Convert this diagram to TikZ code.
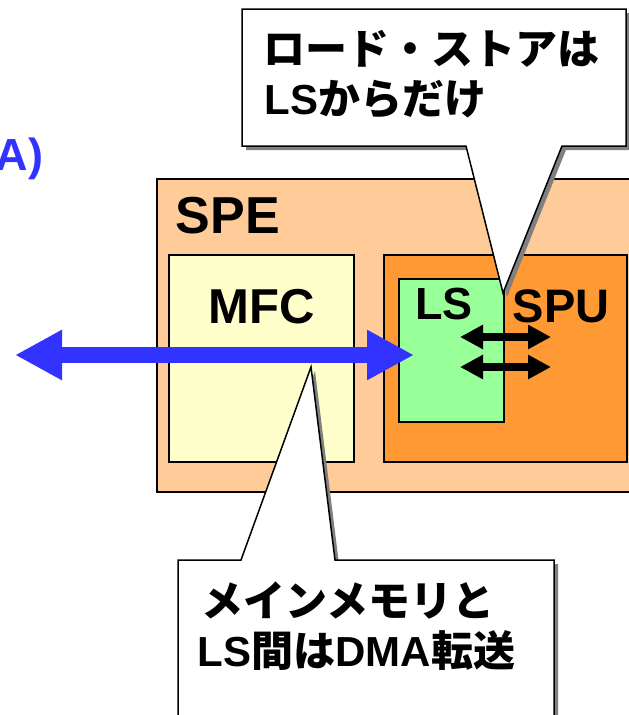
\documentclass[tikz,border=0pt]{standalone}
\usepackage{fontspec}
\setmainfont{Liberation Sans}
\newfontfamily\jpfont{Noto Sans CJK JP}
\usetikzlibrary{arrows.meta}
\definecolor{speclr}{RGB}{255,204,153}
\definecolor{mfcclr}{RGB}{255,255,204}
\definecolor{spuclr}{RGB}{255,153,51}
\definecolor{lsclr}{RGB}{153,255,153}
\definecolor{dmaclr}{RGB}{51,51,255}
\definecolor{shadowclr}{RGB}{128,128,128}

\begin{document}
\begin{tikzpicture}[
    x=1pt,
    y=-1pt,
    line width=1.5pt,
    unitbox/.style={draw=black, anchor=north west, inner sep=0pt, outer sep=0pt},
    spebox/.style={unitbox, fill=speclr},
    mfcbox/.style={unitbox, fill=mfcclr},
    spubox/.style={unitbox, fill=spuclr},
    lsbox/.style={unitbox, fill=lsclr},
    unitlabel/.style={inner sep=0pt},
    calltext/.style={anchor=base west, inner sep=0pt, font=\bfseries\fontsize{42}{50}\selectfont},
    callout/.style={draw=black, fill=white, line join=miter},
    callshadow/.style={fill=shadowclr},
    dmaflow/.style={draw=dmaclr, line width=16pt, {Triangle[length=47pt,width=47pt]}-{Triangle[length=47pt,width=47pt]}},
    lsflow/.style={draw=black, line width=8pt, {Triangle[length=23pt,width=23pt]}-{Triangle[length=23pt,width=23pt]}}
]
\useasboundingbox (0,0) rectangle (629,715);

% Units.
\node[spebox, minimum width=520pt, minimum height=313pt] (spe) at (157,179) {};
\node[mfcbox, minimum width=185pt, minimum height=207pt] (mfc) at (169,255) {};
\node[spubox, minimum width=243pt, minimum height=207pt] (spu) at (384,255) {};
\node[lsbox, minimum width=105pt, minimum height=143pt] (ls) at (399,279) {};

% Transfers.
\coordinate (memend) at (15,355);
\coordinate (lsin) at (414,355);
\coordinate (lsa) at (460,337);
\coordinate (spua) at (551,337);
\coordinate (lsb) at (460,367);
\coordinate (spub) at (551,367);
\draw[dmaflow] (memend) -- (lsin);
\draw[lsflow] (lsa) -- (spua);
\draw[lsflow] (lsb) -- (spub);

% Labels.
\node[anchor=base east, inner sep=0pt, text=dmaclr, font=\bfseries\fontsize{45}{54}\selectfont] (dmalabel) at (44,170) {A)};
\node[unitlabel, font=\bfseries\fontsize{52}{60}\selectfont] (spelabel) at (228,216) {SPE};
\node[unitlabel, font=\bfseries\fontsize{49}{58}\selectfont] (mfclabel) at (262,307) {MFC};
\node[unitlabel, font=\bfseries\fontsize{45}{54}\selectfont] (lslabel) at (444,304) {LS};
\node[unitlabel, font=\bfseries\fontsize{47}{56}\selectfont] (spulabel) at (561,306) {SPU};

% Callouts.
\path[callshadow, shift={(4,4)}] (242,9) -- (626,9) -- (626,146) -- (562,146) -- (503,293) -- (466,146) -- (242,146) -- cycle;
\path[callout] (242,9) -- (626,9) -- (626,146) -- (562,146) -- (503,293) -- (466,146) -- (242,146) -- cycle;
\path[callshadow, shift={(4,4)}] (178,560) -- (241,560) -- (311,367) -- (335,560) -- (554,560) -- (554,740) -- (178,740) -- cycle;
\path[callout] (178,560) -- (241,560) -- (311,367) -- (335,560) -- (554,560) -- (554,740) -- (178,740) -- cycle;

\node[calltext] (loadline1) at (263,64) {\jpfont ロード・ストアは};
\node[calltext] (loadline2) at (264,114) {LS{\jpfont からだけ}};
\node[calltext] (dmaline1) at (201,616) {\jpfont メインメモリと};
\node[calltext] (dmaline2) at (197,666) {LS{\jpfont 間は}DMA{\jpfont 転送}};

\end{tikzpicture}
\end{document}
